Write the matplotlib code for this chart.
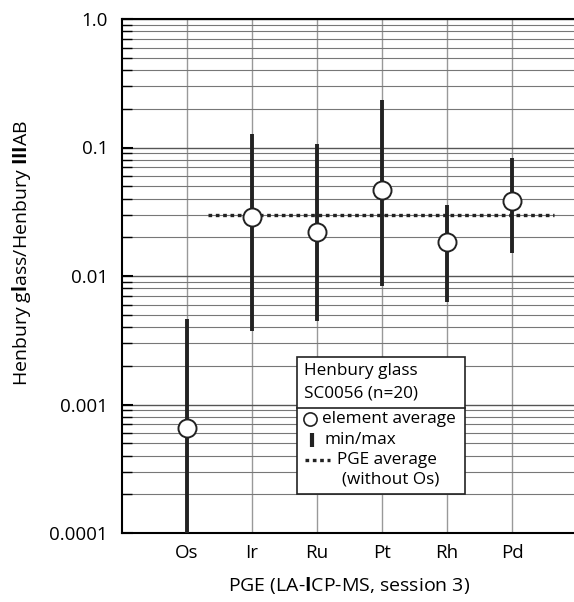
import matplotlib
matplotlib.use("Agg")
import matplotlib.pyplot as plt
from matplotlib.patches import Rectangle
from matplotlib.lines import Line2D
from matplotlib.ticker import LogLocator, NullFormatter, FixedLocator

plt.rcParams['font.family'] = ['Open Sans', 'DejaVu Sans']
plt.rcParams['mathtext.fontset'] = 'custom'
plt.rcParams['mathtext.rm'] = 'Open Sans'
plt.rcParams['mathtext.bf'] = 'Open Sans:bold'

elements = ["Os", "Ir", "Ru", "Pt", "Rh", "Pd"]
avg = [0.00066, 0.029, 0.022, 0.047, 0.0183, 0.038]
vmin = [0.00009, 0.00375, 0.00443, 0.0084, 0.00624, 0.0151]
vmax = [0.00463, 0.128, 0.107, 0.233, 0.0358, 0.0834]
pge_avg = 0.030
pge_span = [1.33, 6.65]
yticks = [0.0001, 0.001, 0.01, 0.1, 1.0]
ytick_labels = ["0.0001", "0.001", "0.01", "0.1", "1.0"]

W, H = 574, 602
fig = plt.figure(figsize=(W / 100, H / 100), dpi=100)
ax = fig.add_axes([122 / W, 1 - 533 / H, 455 / W, 514 / H])
ax.set_yscale('log')
ax.set_ylim(1e-4, 1.0)
ax.set_xlim(0, 7)

x = list(range(1, len(elements) + 1))

# grid
ax.yaxis.set_major_locator(FixedLocator(yticks))
ax.yaxis.set_minor_locator(LogLocator(base=10, subs=range(2, 10)))
ax.yaxis.set_minor_formatter(NullFormatter())
ax.set_yticks(yticks)
ax.set_yticklabels(ytick_labels)
ax.set_xticks(x)
ax.set_xticklabels(elements)
ax.grid(True, which='major', axis='y', color='#555555', lw=1.0, zorder=0)
ax.grid(True, which='minor', axis='y', color='#777777', lw=0.8, zorder=0)
ax.grid(True, which='major', axis='x', color='#999999', lw=1.0, zorder=0)
ax.set_axisbelow(True)

ax.tick_params(axis='y', which='major', direction='in', length=8, width=1.5,
               labelsize=13.5, pad=10, colors='black')
ax.tick_params(axis='y', which='minor', direction='in', length=7, width=1.0)
ax.tick_params(axis='x', length=0, labelsize=13.5, pad=8)

for s in ['left', 'top', 'bottom']:
    ax.spines[s].set_linewidth(1.5)
    ax.spines[s].set_color('black')
ax.spines['right'].set_visible(False)

# PGE average line
ax.plot(pge_span, [pge_avg, pge_avg], color='#222222', lw=2.4,
        linestyle=(0, (1.1, 1.1)), zorder=3)

# min/max bars
for xi, lo, hi in zip(x, vmin, vmax):
    ax.plot([xi, xi], [lo, hi], color='#222222', lw=2.8, solid_capstyle='butt',
            zorder=4, clip_on=True)

# averages
ax.plot(x, avg, linestyle='none', marker='o', markersize=13,
        markerfacecolor='white', markeredgecolor='#222222', markeredgewidth=1.4,
        zorder=5)

# axis labels
fig.text(22 / W, 1 - 253 / H, r"Henbury g$\mathbf{l}$ass/Henbury $\mathbf{III}$AB",
         rotation=90, ha='center', va='center', fontsize=14)
fig.text(349 / W, 1 - 585 / H, r"PGE (LA-$\mathbf{I}$CP-MS, session 3)",
         ha='center', va='center', fontsize=14)

# custom legend box (in pixel -> figure coords)
def fx(px):
    return px / W

def fy(py):
    return 1 - py / H

box = Rectangle((fx(297), fy(494)), fx(465) - fx(297), fy(357) - fy(494),
                transform=fig.transFigure, facecolor='white', edgecolor='#222222',
                lw=1.2, zorder=10)
fig.add_artist(box)
fig.add_artist(Line2D([fx(297), fx(465)], [fy(408), fy(408)],
                      transform=fig.transFigure, color='#222222', lw=1.2, zorder=11))
fs = 12.3
fig.text(fx(304), fy(371), "Henbury glass", fontsize=fs, va='center', ha='left', zorder=12)
fig.text(fx(304), fy(394), "SC0056 (n=20)", fontsize=fs, va='center', ha='left', zorder=12)
fig.add_artist(Line2D([fx(310)], [fy(419)], transform=fig.transFigure, marker='o',
                      markersize=9.5, markerfacecolor='white', markeredgecolor='#222222',
                      markeredgewidth=1.2, linestyle='none', zorder=12))
fig.text(fx(322), fy(419), "element average", fontsize=fs, va='center', ha='left', zorder=12)
fig.add_artist(Line2D([fx(312), fx(312)], [fy(433), fy(447)], transform=fig.transFigure,
                      color='#222222', lw=3.0, solid_capstyle='butt', zorder=12))
fig.text(fx(324), fy(440), "min/max", fontsize=fs, va='center', ha='left', zorder=12)
fig.add_artist(Line2D([fx(305), fx(330)], [fy(460), fy(460)], transform=fig.transFigure,
                      color='#222222', lw=2.4, linestyle=(0, (1.1, 1.1)), zorder=12))
fig.text(fx(337), fy(460), "PGE average", fontsize=fs, va='center', ha='left', zorder=12)
fig.text(fx(342), fy(480), "(without Os)", fontsize=fs, va='center', ha='left', zorder=12)

fig.savefig("out.png", dpi=100)
